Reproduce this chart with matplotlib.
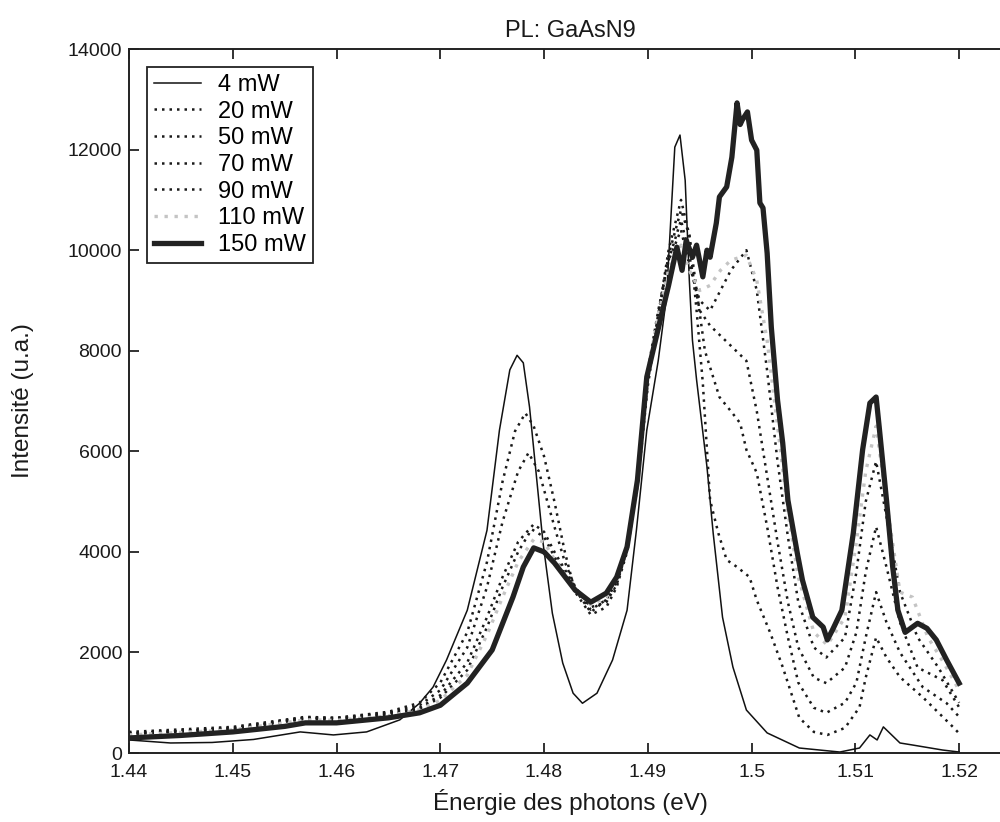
import numpy as np
import matplotlib
matplotlib.use("Agg")
import matplotlib.pyplot as plt
from matplotlib.ticker import FormatStrFormatter

plt.rcParams['font.family'] = ['Liberation Sans', 'DejaVu Sans']

# 4 mW (thin solid)
E4 = [1.440, 1.444, 1.448, 1.452, 1.4565, 1.4597, 1.4629, 1.4661, 1.468, 1.4693,
      1.4706, 1.4726, 1.4745, 1.4757, 1.4767, 1.4774, 1.4780, 1.4786, 1.4793, 1.4799,
      1.4808, 1.4818, 1.4828, 1.4837, 1.4851, 1.4866, 1.4880, 1.4889, 1.4899, 1.4910,
      1.4918, 1.4926, 1.4931, 1.4936, 1.4940, 1.4943, 1.4947, 1.4957, 1.4963, 1.4972,
      1.4982, 1.4995, 1.5015, 1.5046, 1.5085, 1.5104, 1.5114, 1.5121, 1.5127, 1.5143,
      1.5155, 1.5184, 1.5200]
I4 = [260, 200, 210, 270, 420, 360, 420, 660, 990, 1310,
      1850, 2840, 4430, 6420, 7620, 7910, 7760, 6880, 5430, 4180,
      2780, 1790, 1190, 990, 1190, 1850, 2840, 4430, 6420, 7800,
      9070, 12050, 12290, 11390, 9400, 8210, 7420, 5690, 4370, 2700,
      1710, 855, 400, 100, 20, 100, 360, 260, 520, 200,
      160, 60, 20]

# 20 mW
E20 = [1.440, 1.450, 1.457, 1.460, 1.465, 1.468, 1.470, 1.4726, 1.4745, 1.476,
       1.4772, 1.4782, 1.479, 1.480, 1.481, 1.482, 1.483, 1.4845, 1.486, 1.487,
       1.488, 1.489, 1.490, 1.491, 1.492, 1.4932, 1.4940, 1.4947, 1.4953, 1.4960,
       1.4968, 1.4976, 1.4986, 1.4998, 1.5005, 1.5018, 1.5030, 1.5046, 1.506, 1.5073,
       1.509, 1.5104, 1.511, 1.512, 1.513, 1.5143, 1.5165, 1.5194, 1.520]
I20 = [380, 500, 700, 700, 820, 1000, 1400, 2400, 3800, 5400,
       6400, 6760, 6500, 5900, 5000, 4000, 3200, 2750, 2900, 3300,
       4000, 5300, 7300, 8700, 10000, 11000, 10300, 8800, 7360, 5030,
       4370, 3840, 3700, 3500, 3040, 2390, 1710, 700, 420, 360,
       500, 910, 1500, 2300, 1900, 1510, 1110, 520, 390]

# 50 mW
E50 = [1.440, 1.450, 1.457, 1.460, 1.465, 1.468, 1.470, 1.4726, 1.4745, 1.476,
       1.4775, 1.4785, 1.4795, 1.481, 1.482, 1.483, 1.4845, 1.486, 1.487, 1.488,
       1.489, 1.490, 1.491, 1.492, 1.4932, 1.494, 1.4947, 1.4955, 1.4969, 1.4980,
       1.4989, 1.4995, 1.5005, 1.5015, 1.5025, 1.5035, 1.5045, 1.506, 1.5072, 1.509,
       1.5101, 1.511, 1.512, 1.513, 1.5143, 1.5165, 1.5188, 1.520]
I50 = [420, 520, 720, 700, 800, 950, 1250, 2100, 3300, 4600,
       5600, 5970, 5600, 4500, 3800, 3300, 2900, 3000, 3350, 4050,
       5400, 7400, 8700, 9900, 10800, 10300, 9200, 8000, 7080, 6800,
       6560, 6030, 5570, 4500, 3300, 2300, 1400, 900, 800, 1000,
       1400, 2300, 3200, 2600, 2000, 1310, 990, 720]

# 70 mW
E70 = [1.440, 1.450, 1.457, 1.460, 1.465, 1.468, 1.470, 1.4726, 1.4745, 1.476,
       1.4775, 1.479, 1.480, 1.481, 1.483, 1.4845, 1.486, 1.487, 1.488, 1.489,
       1.490, 1.491, 1.492, 1.4932, 1.494, 1.4950, 1.4960, 1.4975, 1.4985, 1.4995,
       1.5005, 1.5015, 1.5025, 1.5035, 1.5045, 1.506, 1.5072, 1.509, 1.5101, 1.511,
       1.512, 1.513, 1.5143, 1.516, 1.5184, 1.520]
I70 = [400, 480, 700, 680, 780, 900, 1150, 1800, 2700, 3500,
       4200, 4550, 4400, 4000, 3300, 2850, 3050, 3400, 4100, 5400,
       7500, 8700, 9800, 10600, 9900, 8800, 8500, 8200, 8000, 7800,
       6800, 5500, 4200, 3000, 2100, 1500, 1390, 1700, 2400, 3600,
       4500, 3700, 2600, 1700, 1450, 910]

# 90 mW
E90 = [1.440, 1.450, 1.457, 1.460, 1.465, 1.468, 1.470, 1.4726, 1.4745, 1.476,
       1.4775, 1.4788, 1.480, 1.481, 1.483, 1.4845, 1.486, 1.487, 1.488, 1.489,
       1.490, 1.491, 1.492, 1.4932, 1.494, 1.495, 1.496, 1.497, 1.498, 1.4995,
       1.5005, 1.5015, 1.5025, 1.5035, 1.5045, 1.506, 1.5072, 1.509, 1.5101, 1.511,
       1.512, 1.513, 1.5143, 1.516, 1.518, 1.520]
I90 = [380, 470, 680, 660, 760, 880, 1100, 1650, 2500, 3300,
       4000, 4450, 4300, 3900, 3250, 2800, 3050, 3400, 4100, 5400,
       7600, 8800, 9800, 10400, 9700, 9000, 8800, 9200, 9600, 10000,
       9200, 7600, 5800, 4300, 3000, 2100, 1900, 2300, 3600, 5000,
       5800, 4700, 3200, 2300, 1700, 1000]

# 110 mW (grey)
E110 = [1.440, 1.450, 1.457, 1.460, 1.465, 1.468, 1.470, 1.4726, 1.4745, 1.476,
        1.4775, 1.479, 1.480, 1.481, 1.483, 1.4845, 1.486, 1.487, 1.488, 1.489,
        1.490, 1.491, 1.492, 1.4932, 1.494, 1.495, 1.496, 1.497, 1.498, 1.4995,
        1.5005, 1.5015, 1.5025, 1.5035, 1.5045, 1.506, 1.5073, 1.509, 1.5101, 1.511,
        1.512, 1.513, 1.5143, 1.5155, 1.517, 1.5185, 1.520]
I110 = [360, 460, 660, 650, 740, 860, 1050, 1550, 2350, 3100,
        3800, 4250, 4200, 3850, 3250, 2950, 3100, 3450, 4100, 5400,
        7600, 8700, 9600, 10100, 9600, 9200, 9300, 9600, 9800, 9900,
        9400, 8200, 6500, 4800, 3500, 2400, 2150, 2700, 4200, 5600,
        6500, 5000, 3200, 3100, 2300, 1800, 1250]

# 150 mW (thick solid)
E150 = [1.440, 1.445, 1.450, 1.455, 1.457, 1.460, 1.465, 1.468, 1.470, 1.4726,
        1.475, 1.477, 1.478, 1.479, 1.480, 1.481, 1.483, 1.4845, 1.486, 1.487,
        1.488, 1.489, 1.4899, 1.4912, 1.4920, 1.4928, 1.4933, 1.4937, 1.4943, 1.4947,
        1.4953, 1.4957, 1.4960, 1.4966, 1.4969, 1.4976, 1.4981, 1.4986, 1.4989, 1.4991,
        1.4996, 1.5000, 1.5005, 1.5008, 1.5011, 1.5015, 1.5019, 1.5025, 1.5030, 1.5035,
        1.5044, 1.5049, 1.5059, 1.5069, 1.5073, 1.5078, 1.5087, 1.5098, 1.5107, 1.5114,
        1.5120, 1.5123, 1.5130, 1.5136, 1.5141, 1.5148, 1.5160, 1.5169, 1.5178, 1.5188,
        1.5200]
I150 = [300, 350, 420, 530, 600, 600, 700, 800, 950, 1390,
        2050, 3100, 3700, 4080, 4000, 3780, 3240, 3000, 3180, 3500,
        4100, 5430, 7480, 8610, 9300, 10060, 9600, 10200, 9860, 10100,
        9470, 10000, 9860, 10540, 11060, 11260, 11850, 12930, 12500, 12590,
        12750, 12190, 11990, 10940, 10840, 9940, 8470, 7020, 6165, 5030,
        3980, 3440, 2700, 2505, 2250, 2450, 2840, 4370, 6030, 6960,
        7080, 6480, 5030, 3700, 2840, 2400, 2580, 2480, 2250, 1850,
        1390]

xticks = [1.44, 1.45, 1.46, 1.47, 1.48, 1.49, 1.50, 1.51, 1.52]
yticks = [0, 2000, 4000, 6000, 8000, 10000, 12000, 14000]

fig = plt.figure(figsize=(10, 8.22), dpi=100)
ax = fig.add_axes([0.129, 0.0839, 0.882, 0.8564])

dot = (0, (1, 2.0))
ax.plot(E4, I4, color='#111111', lw=1.1, label='4 mW')
ax.plot(E20, I20, color='#1a1a1a', lw=1.8, ls=dot, label='20 mW')
ax.plot(E50, I50, color='#1a1a1a', lw=1.8, ls=dot, label='50 mW')
ax.plot(E70, I70, color='#1a1a1a', lw=1.8, ls=dot, label='70 mW')
ax.plot(E90, I90, color='#1a1a1a', lw=1.8, ls=dot, label='90 mW')
ax.plot(E110, I110, color='#c4c4c4', lw=2.4, ls=dot, label='110 mW')
ax.plot(E150, I150, color='#222222', lw=3.8, label='150 mW')

ax.set_xlim(1.44, 1.525)
ax.set_ylim(0, 14000)
ax.set_xticks(xticks)
ax.set_yticks(yticks)
ax.xaxis.set_major_formatter(FormatStrFormatter('%g'))
ax.tick_params(direction='in', top=True, right=True, length=7, width=1.3,
               labelsize=14, pad=5, colors='#222222', labelcolor='#1a1a1a')
ax.tick_params(axis='x', pad=8)
for s in ax.spines.values():
    s.set_linewidth(1.4)
    s.set_color('#222222')

ax.set_title('PL: GaAsN9', fontsize=17, pad=9, color='#1a1a1a')
ax.set_xlabel('Énergie des photons (eV)', fontsize=17.5, labelpad=6, color='#1a1a1a')
ax.set_ylabel('Intensité (u.a.)', fontsize=17.5, labelpad=24, color='#1a1a1a')

leg = ax.legend(loc='upper left', fontsize=17, fancybox=False, edgecolor='#222222',
                framealpha=1, handlelength=2.0, handletextpad=0.7,
                borderaxespad=0.75, labelspacing=0.2, borderpad=0.3)
leg.get_frame().set_linewidth(1.3)

fig.savefig('out.png', dpi=100)
